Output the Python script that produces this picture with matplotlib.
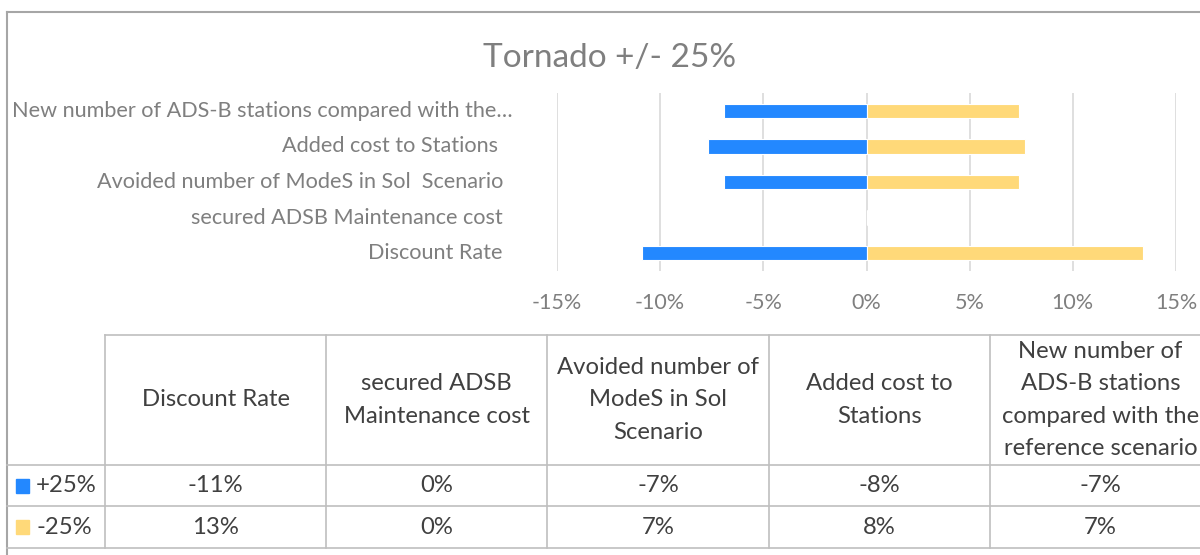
import textwrap
import matplotlib.pyplot as plt
from matplotlib.lines import Line2D
from matplotlib.patches import Rectangle
import matplotlib.transforms as mtransforms

plt.rcParams['font.family'] = ['Lato', 'DejaVu Sans']

# data (bottom to top in the chart, left to right in the table)
categories = [
    "Discount Rate",
    "secured ADSB Maintenance cost",
    "Avoided number of ModeS in Sol  Scenario",
    "Added cost to Stations ",
    "New number of ADS-B stations compared with the reference scenario",
]
plus_25 = [-10.9, 0.0, -6.9, -7.7, -6.9]
minus_25 = [13.4, 0.0, 7.4, 7.7, 7.4]
series_names = ["+25%", "-25%"]
xticks = [-15, -10, -5, 0, 5, 10, 15]

BLUE = '#2388FF'
YELLOW = '#FFD979'
LABEL_GRAY = '#7F7F7F'
TEXT_DARK = '#404040'
LINE_GRAY = '#BFBFBF'

W, H = 1200, 555
fig = plt.figure(figsize=(W / 100, H / 100), dpi=100)


def fx(x):
    return x / W


def fy(y):
    return 1 - y / H


def hline(y, x0, x1, color=LINE_GRAY, lw=1.2):
    fig.add_artist(Line2D([fx(x0), fx(x1)], [fy(y), fy(y)], color=color, lw=lw,
                          transform=fig.transFigure))


def vline(x, y0, y1, color=LINE_GRAY, lw=1.2):
    fig.add_artist(Line2D([fx(x), fx(x)], [fy(y0), fy(y1)], color=color, lw=lw,
                          transform=fig.transFigure))


# outer border of chart area (right side runs off the picture)
hline(12, 7, 1300, color='#A6A6A6', lw=1.5)
vline(7, 12, 560, color='#A6A6A6', lw=1.5)

fig.text(fx(610), fy(58), "Tornado +/- 25%", ha='center', va='center',
         fontsize=24, color=LABEL_GRAY)

# bar chart
ax = fig.add_axes([fx(557), fy(271), fx(1176) - fx(557), fy(93) - fy(271)])
ypos = list(range(len(categories)))
ax.barh(ypos, plus_25, height=0.4, color=BLUE, edgecolor='white', lw=0.8, zorder=3)
ax.barh(ypos, minus_25, height=0.4, color=YELLOW, edgecolor='white', lw=0.8, zorder=3)
ax.set_xlim(-15, 15)
ax.set_ylim(-0.5, len(categories) - 0.5)
for s in ax.spines.values():
    s.set_visible(False)
ax.set_xticks(xticks)
ax.set_xticklabels([f"{t}%" for t in xticks], fontsize=15.5, color=LABEL_GRAY)
ax.tick_params(axis='x', length=0, pad=16)
ax.set_yticks([])
ax.grid(axis='x', color='#D9D9D9', lw=1.2, zorder=0)

# category labels on the left (Excel truncates the long one)
lab_tr = mtransforms.blended_transform_factory(fig.transFigure, ax.transData)
for y, name in zip(ypos, categories):
    if len(name) > 46:
        ax.text(fx(12), y, name[:46] + "\u2026", transform=lab_tr, ha='left',
                va='center', fontsize=15.6, color=LABEL_GRAY)
    else:
        ax.text(fx(503), y, name, transform=lab_tr, ha='right', va='center',
                fontsize=15.6, color=LABEL_GRAY)

# data table
col_edges = [105 + i * 221.2 for i in range(len(categories) + 1)]
row_edges = [335, 465, 506, 548]

hline(row_edges[0], col_edges[0], 1300)
for y in row_edges[1:]:
    hline(y, 7, 1300)
for x in col_edges:
    vline(x, row_edges[0], row_edges[-1])

for i, name in enumerate(categories):
    cx = (col_edges[i] + col_edges[i + 1]) / 2
    fig.text(fx(cx), fy((row_edges[0] + row_edges[1]) / 2),
             "\n".join(textwrap.wrap(name, 18)), ha='center', va='center',
             fontsize=17.2, color=TEXT_DARK, linespacing=1.66)
    for r, vals in enumerate([plus_25, minus_25]):
        cy = (row_edges[r + 1] + row_edges[r + 2]) / 2
        fig.text(fx(cx), fy(cy), f"{round(vals[i])}%", ha='center', va='center',
                 fontsize=17.2, color=TEXT_DARK)

for r, (sname, col) in enumerate(zip(series_names, [BLUE, YELLOW])):
    cy = (row_edges[r + 1] + row_edges[r + 2]) / 2
    fig.add_artist(Rectangle((fx(16), fy(cy + 7)), fx(13), 14 / H, color=col,
                             transform=fig.transFigure))
    fig.text(fx(36), fy(cy), sname, ha='left', va='center', fontsize=17.2,
             color=TEXT_DARK)

fig.savefig('out.png', dpi=100, facecolor='white')
